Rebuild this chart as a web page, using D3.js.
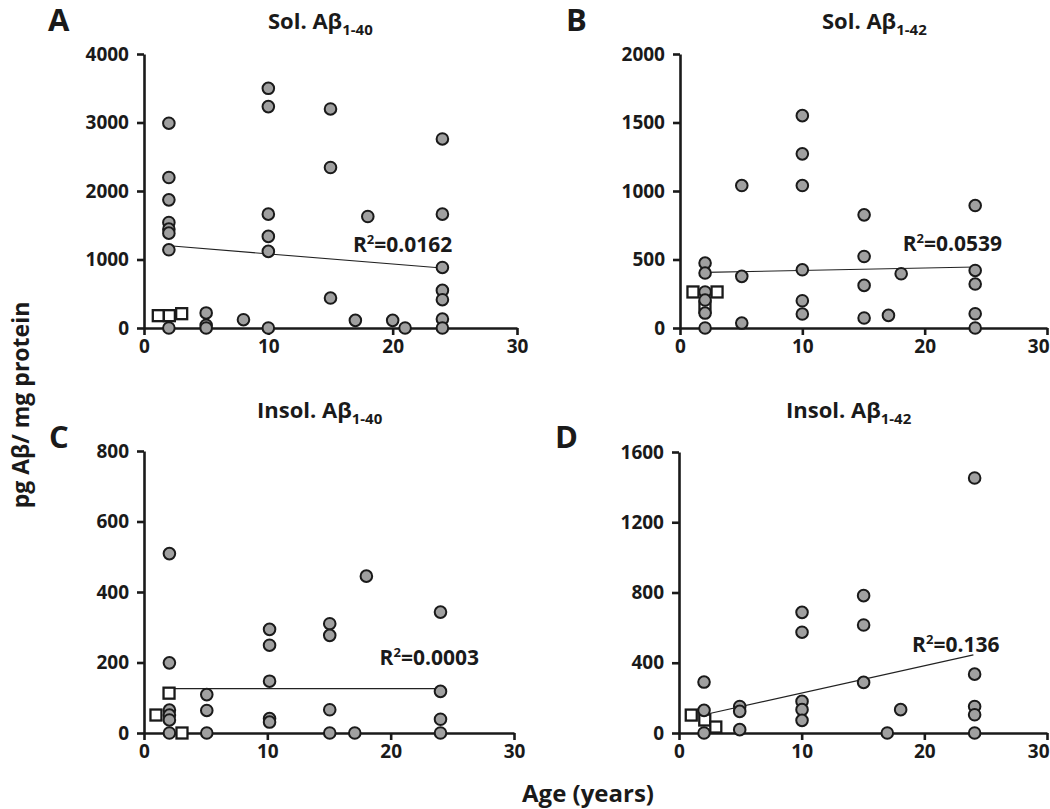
<!DOCTYPE html>
<html><head><meta charset="utf-8">
<script src="https://cdn.jsdelivr.net/npm/d3@7"></script>
<style>
body{margin:0;background:#fff;}
text{font-family:"Open Sans",Lato,sans-serif;font-weight:bold;fill:#1a1a1a;}
</style></head>
<body><svg id="c" width="1050" height="809"></svg>
<script>
// ---- data (age in years, pg Aβ / mg protein) ----
const xTicks = [0, 10, 20, 30];
const yTicksA = [0, 1000, 2000, 3000, 4000];
const yTicksB = [0, 500, 1000, 1500, 2000];
const yTicksC = [0, 200, 400, 600, 800];
const yTicksD = [0, 400, 800, 1200, 1600];

const circlesA = [[2,2990],[2,2197],[2,1871],[2,1541],[2,1443],[2,1385],[2,1142],[2,0],
  [5,220],[5,40],[5,0],[8,121],
  [10,3499],[10,3232],[10,1662],[10,1337],[10,1118],[10,0],
  [15,3198],[15,2343],[15,437],[17,112],[18,1628],[20,112],[21,0],
  [24,2760],[24,1662],[24,884],[24,549],[24,413],[24,131],[24,0]];
const squaresA = [[1.15,180],[2.04,180],[3.03,209]];
const trendA = [[2.04,1200],[23.96,875]];

const circlesB = [[2.05,474],[2.05,401],[2.05,263],[2.05,204],[2.05,109],[2.05,0],
  [5.05,1040],[5.05,377],[5.05,36],
  [10,1550],[10,1271],[10,1040],[10,425],[10,199],[10,102],
  [15.05,826],[15.05,522],[15.05,311],[15.05,73],[17.04,92],[18.08,396],
  [24.13,894],[24.13,420],[24.13,321],[24.13,104],[24.13,0]];
const squaresB = [[1.06,263],[2.04,153],[3.03,263]];
const trendB = [[2.05,406],[24.13,445]];

const circlesC = [[2.06,509],[2.06,199],[2.06,65],[2.06,51],[2.06,37],[2.06,0],
  [5.09,109],[5.09,64],[5.09,0],
  [10.18,294],[10.18,249],[10.18,147],[10.18,41],[10.18,31],
  [15.06,310],[15.06,277],[15.06,66],[15.06,0],[17.09,0],[18.03,445],
  [24.04,343],[24.04,118],[24.04,39],[24.04,0]];
const squaresC = [[2.03,113],[0.97,51],[3.08,0]];
const trendC = [[2.06,126],[24.04,126]];

const circlesD = [[2.04,290],[2.04,129],[2.04,0],
  [4.95,151],[4.95,123],[4.95,19],
  [10.03,687],[10.03,574],[10.03,180],[10.03,133],[10.03,72],
  [15.05,782],[15.05,615],[15.05,288],[16.98,0],[18.07,133],
  [24.1,1452],[24.1,335],[24.1,151],[24.1,104],[24.1,0]];
const squaresD = [[1.0,102],[2.1,74],[3.0,34]];
const trendD = [[2.04,104],[24.0,445]];

const letters = ["A","B","C","D"];
const titleMain = ["Sol. Aβ","Sol. Aβ","Insol. Aβ","Insol. Aβ"];
const titleSub = ["1-40","1-42","1-40","1-42"];
const r2Labels = ["0.0162","0.0539","0.0003","0.136"];
const r2Pos = [[16.8,1109],[18.2,562],[19.1,193],[19.0,461]];

// ---- layout ----
const layout = [
  {x0:144,x1:517,yTop:54,yBot:328,ymax:4000,letter:[48,31],title:[268,29]},
  {x0:680,x1:1047,yTop:54,yBot:328,ymax:2000,letter:[566,31],title:[822,29]},
  {x0:144,x1:514,yTop:451,yBot:733,ymax:800,letter:[49,448],title:[257,418]},
  {x0:679,x1:1047,yTop:452,yBot:733,ymax:1600,letter:[555,448],title:[786,418]}
];
const allCircles=[circlesA,circlesB,circlesC,circlesD];
const allSquares=[squaresA,squaresB,squaresC,squaresD];
const allTrends=[trendA,trendB,trendC,trendD];
const allYTicks=[yTicksA,yTicksB,yTicksC,yTicksD];

const svg=d3.select("#c");
layout.forEach((L,i)=>{
  const x=d3.scaleLinear().domain([0,30]).range([L.x0,L.x1]);
  const y=d3.scaleLinear().domain([0,L.ymax]).range([L.yBot,L.yTop]);
  const g=svg.append("g");
  // axes
  const ya=g.append("g").attr("transform",`translate(${L.x0},0)`)
    .call(d3.axisLeft(y).tickValues(allYTicks[i]).tickSize(7).tickSizeOuter(0).tickPadding(8).tickFormat(d3.format("d")));
  const xa=g.append("g").attr("transform",`translate(0,${L.yBot})`)
    .call(d3.axisBottom(x).tickValues(xTicks).tickSize(7).tickSizeOuter(0).tickPadding(5).tickFormat(d3.format("d")));
  [ya,xa].forEach(a=>{
    a.select(".domain").attr("stroke","#1a1a1a").attr("stroke-width",2.6);
    a.selectAll(".tick line").attr("stroke","#1a1a1a").attr("stroke-width",2.6);
    a.selectAll(".tick text").attr("font-size",19).attr("font-family","Open Sans").attr("font-weight","bold").attr("fill","#1a1a1a");
  });
  // keep the right-most x label inside the picture
  xa.selectAll(".tick text").filter(d=>x(d)>1030).attr("text-anchor","end")
    .attr("x", d=> (x(d)+12>1049 ? 1049-x(d) : 12));
  // trend line
  g.append("line").attr("x1",x(allTrends[i][0][0])).attr("y1",y(allTrends[i][0][1]))
    .attr("x2",x(allTrends[i][1][0])).attr("y2",y(allTrends[i][1][1]))
    .attr("stroke","#222").attr("stroke-width",1.1);
  // squares
  const s=11;
  g.selectAll("rect.sq").data(allSquares[i]).join("rect").attr("class","sq")
    .attr("x",d=>x(d[0])-s/2).attr("y",d=>y(d[1])-s/2).attr("width",s).attr("height",s)
    .attr("fill","#fff").attr("stroke","#1a1a1a").attr("stroke-width",2.3);
  // circles
  g.selectAll("circle").data(allCircles[i]).join("circle")
    .attr("cx",d=>x(d[0])).attr("cy",d=>y(d[1])).attr("r",5.8)
    .attr("fill","#a0a0a0").attr("stroke","#1a1a1a").attr("stroke-width",2);
  // R2 label
  const t=g.append("text").attr("x",x(r2Pos[i][0])).attr("y",y(r2Pos[i][1])).attr("font-size",21);
  t.append("tspan").text("R");
  t.append("tspan").attr("font-size",13).attr("dy",-8).text("2");
  t.append("tspan").attr("dy",8).text("="+r2Labels[i]);
  // title
  const tt=svg.append("text").attr("x",L.title[0]).attr("y",L.title[1]).attr("font-size",22);
  tt.append("tspan").text(titleMain[i]);
  tt.append("tspan").attr("font-size",15).attr("dy",6).text(titleSub[i]);
  // panel letter
  svg.append("text").attr("x",L.letter[0]).attr("y",L.letter[1]).attr("font-size",31)
    .attr("font-family","Liberation Sans, Arial").text(letters[i]);
});
// axis titles
svg.append("text").attr("transform","translate(29,405) rotate(-90)").attr("text-anchor","middle")
  .attr("font-size",23).text("pg Aβ/ mg protein");
svg.append("text").attr("x",588).attr("y",802).attr("text-anchor","middle")
  .attr("font-size",24).text("Age (years)");
</script></body></html>
